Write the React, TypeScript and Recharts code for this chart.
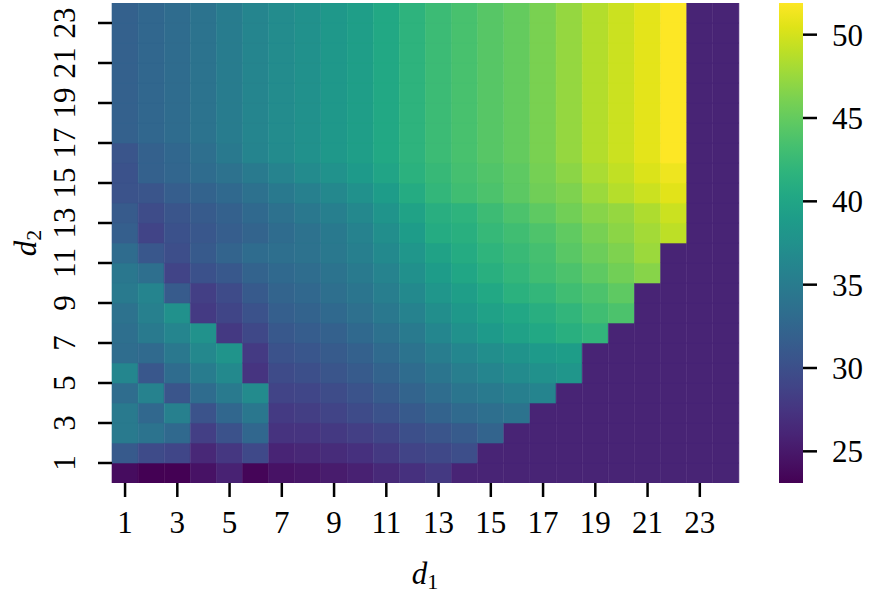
import React from 'react'
import { BarChart, Bar, XAxis, YAxis, Cell, Label } from 'recharts'

const FONT = '"Liberation Serif", "DejaVu Serif", serif'

// grid axes
const d1Values = [1, 2, 3, 4, 5, 6, 7, 8, 9, 10, 11, 12, 13, 14, 15, 16, 17, 18, 19, 20, 21, 22, 23, 24]
const d2Values = [1, 2, 3, 4, 5, 6, 7, 8, 9, 10, 11, 12, 13, 14, 15, 16, 17, 18, 19, 20, 21, 22, 23, 24]
const yTicks = [1, 3, 5, 7, 9, 11, 13, 15, 17, 19, 21, 23]
const colorbarTicks = [25, 30, 35, 40, 45, 50]
const colorMin = 23.1
const colorMax = 51.9

// value of the flat (masked) lower-right region
const M = 26.0

// one row per d2 (bottom row first), one value per d1
const zRows: number[][] = [
  [24.0, 23.1, 23.1, 24.5, 25.8, 23.4, 24.5, 24.8, 25.3, 25.7, 26.4, 27.1, 27.9, M, M, M, M, M, M, M, M, M, M, M],
  [31.2, 29.6, 29.1, 26.3, 27.7, 29.4, 26.0, 26.3, 26.7, 27.1, 27.9, 28.9, 29.3, 29.9, M, M, M, M, M, M, M, M, M, M],
  [34.9, 34.0, 32.9, 28.4, 30.3, 32.6, 27.3, 27.4, 27.9, 28.4, 29.0, 30.0, 30.6, 31.3, 32.3, M, M, M, M, M, M, M, M, M],
  [34.9, 32.7, 35.6, 30.4, 32.6, 34.5, 28.0, 28.3, 28.9, 29.6, 30.3, 31.2, 32.2, 33.0, 33.5, 34.0, M, M, M, M, M, M, M, M],
  [33.3, 35.8, 30.6, 33.2, 34.9, 36.8, 28.9, 29.1, 29.7, 30.4, 31.3, 32.3, 33.3, 34.2, 34.9, 35.5, 36.1, M, M, M, M, M, M, M],
  [36.3, 30.9, 33.2, 35.1, 36.6, 27.4, 29.6, 30.0, 30.6, 31.3, 32.2, 33.2, 34.3, 35.3, 36.2, 36.8, 37.5, 38.1, M, M, M, M, M, M],
  [33.3, 33.0, 34.6, 36.5, 37.9, 28.0, 30.3, 30.7, 31.3, 32.0, 33.0, 34.0, 35.2, 36.3, 37.2, 37.8, 38.7, 39.1, M, M, M, M, M, M],
  [33.5, 34.9, 36.2, 37.6, 27.9, 29.3, 31.0, 31.5, 32.0, 32.9, 33.8, 34.9, 36.3, 37.5, 38.7, 39.5, 40.4, 41.2, 42.0, M, M, M, M, M],
  [33.9, 35.6, 37.5, 28.0, 29.0, 30.3, 31.7, 32.2, 32.9, 33.6, 34.6, 35.8, 37.2, 38.4, 39.5, 40.2, 41.1, 42.0, 43.0, 43.7, M, M, M, M],
  [34.9, 36.1, 31.3, 28.4, 29.6, 31.2, 32.3, 32.7, 33.5, 34.3, 35.3, 36.6, 38.1, 39.2, 40.4, 41.4, 42.1, 43.0, 43.7, 44.7, M, M, M, M],
  [34.5, 33.5, 28.9, 30.2, 31.0, 32.2, 32.9, 33.3, 34.0, 34.9, 35.9, 37.4, 38.9, 40.1, 41.2, 42.1, 43.0, 43.7, 44.7, 45.7, 46.7, M, M, M],
  [33.2, 30.9, 29.9, 31.2, 32.3, 33.2, 33.5, 33.9, 34.6, 35.5, 36.6, 38.1, 39.7, 40.7, 41.8, 42.5, 43.3, 44.4, 45.4, 46.3, 47.6, M, M, M],
  [31.7, 28.9, 30.2, 30.9, 31.6, 32.3, 33.2, 33.9, 34.8, 35.8, 37.2, 38.9, 40.7, 41.2, 42.3, 43.0, 43.8, 44.8, 46.0, 46.9, 47.9, 49.0, M, M],
  [31.3, 29.7, 30.6, 31.3, 32.0, 32.9, 33.8, 34.6, 35.5, 36.5, 37.9, 39.7, 41.1, 41.7, 42.8, 43.7, 44.7, 45.7, 46.7, 47.3, 48.4, 49.6, M, M],
  [30.4, 30.6, 31.6, 32.2, 32.9, 33.8, 34.8, 35.6, 36.5, 37.5, 38.9, 40.7, 42.1, 43.0, 43.7, 44.6, 45.6, 46.3, 47.6, 48.7, 49.6, 50.6, M, M],
  [30.3, 32.0, 32.5, 33.2, 33.9, 34.9, 35.9, 36.8, 37.6, 38.7, 39.9, 41.4, 42.4, 43.3, 44.0, 44.7, 45.9, 46.9, 48.2, 49.2, 50.3, 51.2, M, M],
  [30.6, 32.0, 32.6, 33.5, 34.8, 36.0, 36.8, 37.5, 38.4, 39.2, 40.4, 41.7, 42.7, 43.5, 44.3, 45.0, 46.1, 47.3, 48.6, 49.6, 50.7, 51.9, M, M],
  [32.0, 32.6, 33.2, 34.0, 35.1, 36.2, 36.9, 37.5, 38.4, 39.2, 40.4, 41.7, 42.7, 43.5, 44.3, 45.0, 46.1, 47.3, 48.6, 49.6, 50.7, 51.9, M, M],
  [32.0, 32.6, 33.2, 34.0, 35.1, 36.2, 36.9, 37.5, 38.4, 39.2, 40.4, 41.7, 42.7, 43.5, 44.3, 45.0, 46.1, 47.3, 48.6, 49.6, 50.7, 51.9, M, M],
  [32.0, 32.6, 33.2, 34.0, 35.1, 36.2, 36.9, 37.5, 38.4, 39.2, 40.4, 41.7, 42.7, 43.5, 44.3, 45.0, 46.1, 47.3, 48.6, 49.6, 50.7, 51.9, M, M],
  [32.0, 32.6, 33.2, 34.0, 35.1, 36.2, 36.9, 37.5, 38.4, 39.2, 40.4, 41.7, 42.7, 43.5, 44.3, 45.0, 46.1, 47.3, 48.6, 49.6, 50.7, 51.9, M, M],
  [32.0, 32.6, 33.2, 34.0, 35.1, 36.2, 36.9, 37.5, 38.4, 39.2, 40.4, 41.7, 42.7, 43.5, 44.3, 45.0, 46.1, 47.3, 48.6, 49.6, 50.7, 51.9, M, M],
  [32.0, 32.6, 33.2, 34.0, 35.1, 36.2, 36.9, 37.5, 38.4, 39.2, 40.4, 41.7, 42.7, 43.5, 44.3, 45.0, 46.1, 47.3, 48.6, 49.6, 50.7, 51.9, M, M],
  [32.0, 32.6, 33.2, 34.0, 35.1, 36.2, 36.9, 37.5, 38.4, 39.2, 40.4, 41.7, 42.7, 43.5, 44.3, 45.0, 46.1, 47.3, 48.6, 49.6, 50.7, 51.9, M, M],
]

const VIRIDIS = [
  '#440154', '#471365', '#482475', '#463480', '#414487', '#3b528b', '#355f8d',
  '#2f6c8e', '#2a788e', '#25848e', '#21918c', '#1e9c89', '#22a884', '#2fb47c',
  '#44bf70', '#5ec962', '#7ad151', '#9bd93c', '#bddf26', '#dfe318', '#fde725'
]

const hexToRgb = (h: string) => [1, 3, 5].map(i => parseInt(h.slice(i, i + 2), 16))

function viridis(v: number) {
  const t = Math.min(1, Math.max(0, (v - colorMin) / (colorMax - colorMin)))
  const p = t * (VIRIDIS.length - 1)
  const i = Math.min(VIRIDIS.length - 2, Math.floor(p))
  const f = p - i
  const a = hexToRgb(VIRIDIS[i])
  const b = hexToRgb(VIRIDIS[i + 1])
  const c = a.map((x, k) => Math.round(x + (b[k] - x) * f))
  return `rgb(${c[0]},${c[1]},${c[2]})`
}

// every cell is one unit of a stacked column
const table = d1Values.map(d1 => {
  const row: Record<string, number> = { d1 }
  d2Values.forEach(d2 => { row[`r${d2}`] = 1 })
  return row
})

const colorbarData = [{ name: 'cb', range: [colorMin, colorMax] }]

const TICK_FONT = 31

function XTick({ x, y, payload }: any) {
  return (
    <text x={x} y={y + 34} textAnchor="middle" fontSize={TICK_FONT} fontFamily={FONT} fill="#000">
      {payload.value}
    </text>
  )
}

function YTick({ x, y, payload }: any) {
  const bx = x - 21
  return (
    <text x={bx} y={y} transform={`rotate(-90, ${bx}, ${y})`} textAnchor="middle" fontSize={TICK_FONT} fontFamily={FONT} fill="#000">
      {payload.value}
    </text>
  )
}

function CbTick({ x, y, payload }: any) {
  return (
    <text x={x + 13} y={y + 11} textAnchor="start" fontSize={TICK_FONT} fontFamily={FONT} fill="#000">
      {payload.value}
    </text>
  )
}

const tickLine = { stroke: '#000', strokeWidth: 2.5 }

export default function App() {
  return (
    <div style={{ position: 'absolute', left: 0, top: 0, width: 870, height: 596, background: '#fff' }}>
      <div style={{ position: 'absolute', left: 0, top: 0 }}>
        <BarChart
          width={870}
          height={596}
          data={table}
          margin={{ top: 3, right: 131, bottom: 0, left: 0 }}
          barCategoryGap={0}
          barGap={0}
        >
          <XAxis
            dataKey="d1"
            interval={1}
            height={113}
            tickSize={14}
            axisLine={false}
            tickLine={tickLine}
            tick={<XTick />}
          >
            <Label
              content={() => (
                <text x={425} y={584} textAnchor="middle" fontSize={31} fontFamily={FONT} fill="#000">
                  <tspan fontStyle="italic">d</tspan>
                  <tspan fontSize={22} dy={5}>1</tspan>
                </text>
              )}
            />
          </XAxis>
          <YAxis
            type="number"
            domain={[0, 24]}
            ticks={yTicks}
            width={112}
            tickSize={14}
            axisLine={false}
            tickLine={tickLine}
            tick={<YTick />}
            allowDataOverflow
          >
            <Label
              content={() => (
                <text x={36} y={243} transform="rotate(-90, 36, 243)" textAnchor="middle" fontSize={31} fontFamily={FONT} fill="#000">
                  <tspan fontStyle="italic">d</tspan>
                  <tspan fontSize={22} dy={5}>2</tspan>
                </text>
              )}
            />
          </YAxis>
          {d2Values.map((d2, ri) => (
            <Bar key={d2} dataKey={`r${d2}`} stackId="grid" isAnimationActive={false}>
              {d1Values.map((d1, ci) => {
                const c = viridis(zRows[ri][ci])
                return <Cell key={d1} fill={c} stroke={c} strokeWidth={0.6} />
              })}
            </Bar>
          ))}
        </BarChart>
      </div>
      <div style={{ position: 'absolute', left: 779, top: 0 }}>
        <BarChart
          width={91}
          height={596}
          data={colorbarData}
          margin={{ top: 3, right: 0, bottom: 113, left: 0 }}
          barCategoryGap={0}
        >
          <defs>
            <linearGradient id="cbGrad" x1="0" y1="1" x2="0" y2="0">
              {VIRIDIS.map((c, i) => (
                <stop key={i} offset={i / (VIRIDIS.length - 1)} stopColor={c} />
              ))}
            </linearGradient>
          </defs>
          <XAxis dataKey="name" hide />
          <YAxis
            orientation="right"
            type="number"
            domain={[colorMin, colorMax]}
            ticks={colorbarTicks}
            width={67}
            tickSize={14}
            axisLine={false}
            tickLine={tickLine}
            tick={<CbTick />}
            allowDataOverflow
          />
          <Bar dataKey="range" fill="url(#cbGrad)" isAnimationActive={false} />
        </BarChart>
      </div>
    </div>
  )
}
